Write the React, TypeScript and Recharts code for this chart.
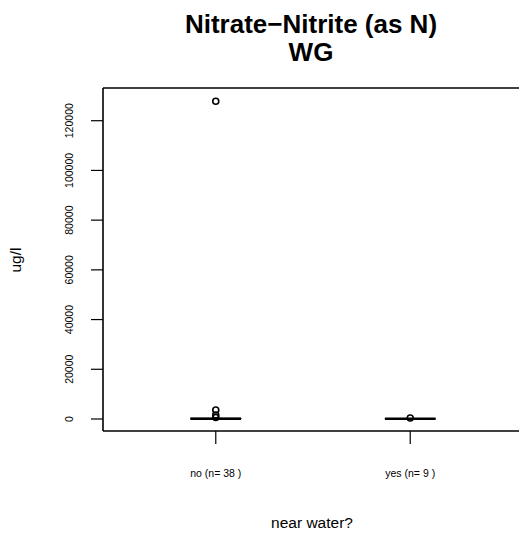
import React from 'react';
import { ComposedChart, XAxis, YAxis, Scatter, ReferenceLine, ReferenceArea } from 'recharts';

// groups along the x axis
const groups = ['no (n= 38 )', 'yes (n= 9 )'];
const groupPos = [1, 2];

// box statistics per group (ug/l)
const lowerWhisker = [0, 10];
const lowerQuart = [30, 40];
const medians = [90, 80];
const upperQuart = [300, 160];
const upperWhisker = [650, 320];

// outlying points per group
const outliersNo = [127800, 3600, 1600, 600];
const outliersYes = [420];

const yTicks = [0, 20000, 40000, 60000, 80000, 100000, 120000];
const yDomain = [-4830, 133160];
const xDomain = [0.42, 2.58];
const halfBox = 0.13;

const FONT = '"Liberation Sans", Arial, Helvetica, sans-serif';

const outlierData = [
  ...outliersNo.map(v => ({ x: groupPos[0], y: v })),
  ...outliersYes.map(v => ({ x: groupPos[1], y: v })),
];

const OpenCircle = (props: any) => {
  const { cx, cy } = props;
  return <circle cx={cx} cy={cy} r={3} fill="none" stroke="#000" strokeWidth={1.6} />;
};

const YTick = (props: any) => {
  const { y, payload } = props;
  return (
    <text transform={`translate(72.8, ${y}) rotate(-90)`} textAnchor="middle" fontSize={10.5} fontFamily={FONT} fill="#000">
      {payload.value}
    </text>
  );
};

const XTick = (props: any) => {
  const { x, y, payload } = props;
  return (
    <text x={x} y={y} dy={33} textAnchor="middle" fontSize={10.5} fontFamily={FONT} fill="#000">
      {groups[payload.value - 1]}
    </text>
  );
};

export default function App() {
  return (
    <div style={{ position: 'absolute', left: 0, top: 0, width: 519, height: 533, overflow: 'hidden', background: '#fff' }}>
      <ComposedChart width={523} height={533} margin={{ top: 88, right: 0, bottom: 0, left: 0 }}>
        <XAxis
          type="number"
          dataKey="x"
          domain={xDomain}
          ticks={groupPos}
          allowDataOverflow
          height={102}
          tickSize={13}
          tickMargin={0}
          tick={<XTick />}
          axisLine={{ stroke: '#000', strokeWidth: 1.6 }}
          tickLine={{ stroke: '#000', strokeWidth: 1.2 }}
        />
        <YAxis
          type="number"
          dataKey="y"
          domain={yDomain}
          ticks={yTicks}
          allowDataOverflow
          width={103}
          tickSize={12}
          tickMargin={0}
          tick={<YTick />}
          axisLine={{ stroke: '#000', strokeWidth: 1.6 }}
          tickLine={{ stroke: '#000', strokeWidth: 1.2 }}
        />
        <ReferenceLine y={yDomain[1]} stroke="#000" strokeWidth={1.6} ifOverflow="visible" />
        <ReferenceLine x={xDomain[1]} stroke="#000" strokeWidth={1.6} ifOverflow="visible" />
        {groupPos.map((p, i) => (
          <ReferenceArea
            key={`box-${i}`}
            x1={p - halfBox}
            x2={p + halfBox}
            y1={lowerQuart[i]}
            y2={upperQuart[i]}
            fill="none"
            stroke="#000"
            strokeWidth={1}
          />
        ))}
        {groupPos.map((p, i) => (
          <ReferenceLine
            key={`wl-${i}`}
            segment={[{ x: p, y: lowerWhisker[i] }, { x: p, y: upperWhisker[i] }]}
            stroke="#000"
            strokeWidth={1}
          />
        ))}
        {groupPos.map((p, i) => (
          <ReferenceLine
            key={`med-${i}`}
            segment={[{ x: p - halfBox, y: medians[i] }, { x: p + halfBox, y: medians[i] }]}
            stroke="#000"
            strokeWidth={2.6}
          />
        ))}
        <Scatter data={outlierData} shape={<OpenCircle />} isAnimationActive={false} />
      </ComposedChart>
      <svg width={519} height={533} style={{ position: 'absolute', left: 0, top: 0, pointerEvents: 'none' }}>
        <text x={311} y={33} textAnchor="middle" fontSize={26} fontWeight="bold" fontFamily={FONT} fill="#000">
          Nitrate−Nitrite (as N)
        </text>
        <text x={311} y={61} textAnchor="middle" fontSize={26} fontWeight="bold" fontFamily={FONT} fill="#000">
          WG
        </text>
        <text transform="translate(21, 260) rotate(-90)" textAnchor="middle" fontSize={15.5} fontFamily={FONT} fill="#000">
          ug/l
        </text>
        <text x={312} y={528} textAnchor="middle" fontSize={15.5} fontFamily={FONT} fill="#000">
          near water?
        </text>
      </svg>
    </div>
  );
}
